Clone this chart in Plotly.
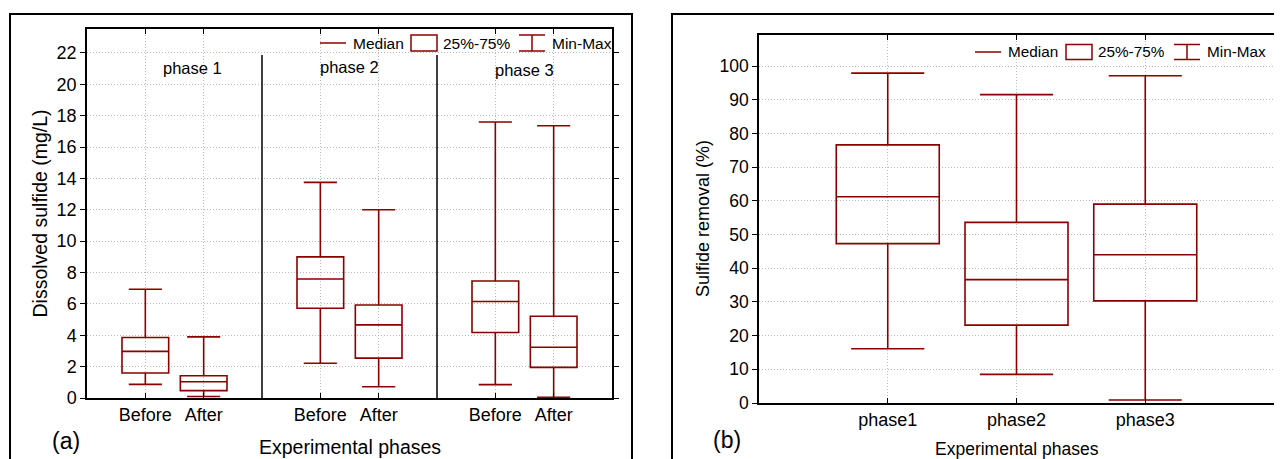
import plotly.graph_objects as go

# ---------------- data ----------------
# Panel (a): dissolved sulfide (mg/L)
a_positions = [1, 2, 4, 5, 7, 8]
a_labels = ["Before", "After", "Before", "After", "Before", "After"]
a_min = [0.87, 0.10, 2.22, 0.72, 0.85, 0.04]
a_q1 = [1.59, 0.47, 5.72, 2.54, 4.18, 1.95]
a_median = [2.97, 1.04, 7.59, 4.66, 6.15, 3.24]
a_q3 = [3.86, 1.42, 9.00, 5.93, 7.46, 5.21]
a_max = [6.93, 3.90, 13.75, 12.00, 17.60, 17.36]
a_phase_names = ["phase 1", "phase 2", "phase 3"]
a_phase_label_x = [1.8, 4.5, 7.5]
a_phase_label_y = [21.05, 21.1, 20.9]
a_separators = [3, 6]

# Panel (b): sulfide removal (%)
b_positions = [0, 1, 2]
b_labels = ["phase1", "phase2", "phase3"]
b_min = [16.1, 8.5, 0.9]
b_q1 = [47.3, 23.1, 30.3]
b_median = [61.2, 36.6, 44.0]
b_q3 = [76.6, 53.6, 59.0]
b_max = [97.9, 91.5, 97.1]

# page body has an 8px margin: size the figure to fit the window
OFF = 8
W, H = 1282 - OFF, 459 - OFF
RED = "#8B0000"
FONT = "Arial, Liberation Sans, sans-serif"
GRID = "#b8b8b8"


def px(x):
    return (x - OFF) / W


def py(y):
    return 1 - (y - OFF) / H


fig = go.Figure()

fig.add_trace(go.Box(
    x=a_positions, q1=a_q1, median=a_median, q3=a_q3,
    lowerfence=a_min, upperfence=a_max,
    width=0.8, whiskerwidth=0.71,
    line=dict(color=RED, width=1.6), fillcolor="rgba(255,255,255,0)",
    boxpoints=False, showlegend=False, xaxis="x", yaxis="y",
))
fig.add_trace(go.Box(
    x=b_positions, q1=b_q1, median=b_median, q3=b_q3,
    lowerfence=b_min, upperfence=b_max,
    width=0.8, whiskerwidth=0.71,
    line=dict(color=RED, width=1.6), fillcolor="rgba(255,255,255,0)",
    boxpoints=False, showlegend=False, xaxis="x2", yaxis="y2",
))

axis_common = dict(
    showline=True, linecolor="black", linewidth=1.5, mirror="ticks",
    showgrid=True, gridcolor=GRID, griddash="1px,2px", gridwidth=1,
    zeroline=False, tickcolor="black", automargin=False,
    tickfont=dict(family=FONT, size=18, color="black"),
)

fig.update_layout(
    width=W, height=H,
    margin=dict(l=0, r=0, t=0, b=0, pad=0, autoexpand=False),
    paper_bgcolor="white", plot_bgcolor="white",
    boxmode="overlay",
    xaxis=dict(domain=[px(87), px(612)], anchor="y", range=[0, 9],
               tickvals=a_positions, ticktext=a_labels,
               ticks="inside", ticklen=5, **axis_common),
    yaxis=dict(domain=[py(398), py(29)], anchor="x", range=[0, 23.53],
               tickvals=list(range(0, 23, 2)),
               ticks="outside", ticklen=5, **axis_common),
    xaxis2=dict(domain=[px(759), px(1274)], anchor="y2", range=[-1, 3],
                tickvals=b_positions, ticktext=b_labels,
                ticks="inside", ticklen=5, **axis_common),
    yaxis2=dict(domain=[py(403), py(35)], anchor="x2", range=[0, 109.2],
                tickvals=list(range(0, 101, 10)),
                ticks="outside", ticklen=5, **axis_common),
)
fig.update_yaxes(tickfont=dict(size=17.5), selector=dict(anchor="x2"))

shapes = []
annotations = []

# outer frames
shapes.append(dict(type="rect", xref="paper", yref="paper",
                   x0=px(10), x1=px(632), y0=py(475), y1=py(14),
                   line=dict(color="black", width=2), layer="below"))
shapes.append(dict(type="rect", xref="paper", yref="paper",
                   x0=px(672), x1=px(1295), y0=py(475), y1=py(14),
                   line=dict(color="black", width=2), layer="below"))

# phase separators in panel (a)
for s in a_separators:
    shapes.append(dict(type="line", xref="x", yref="y",
                       x0=s, x1=s, y0=0, y1=21.87,
                       line=dict(color="black", width=1.5)))

# phase labels
for name, lx, ly in zip(a_phase_names, a_phase_label_x, a_phase_label_y):
    annotations.append(dict(xref="x", yref="y", x=lx, y=ly, text=name,
                            showarrow=False, xanchor="center",
                            yanchor="middle",
                            font=dict(family=FONT, size=16.5, color="black")))


def legend(y, x_line, x_box, x_mm, x_t1, x_t2, x_t3, half, fsize):
    items = []
    txt = []
    items.append(dict(type="line", xref="paper", yref="paper",
                      x0=px(x_line), x1=px(x_line + 26), y0=py(y), y1=py(y),
                      line=dict(color=RED, width=1.5)))
    items.append(dict(type="rect", xref="paper", yref="paper",
                      x0=px(x_box), x1=px(x_box + 26),
                      y0=py(y + half), y1=py(y - half),
                      line=dict(color=RED, width=1.5)))
    items.append(dict(type="line", xref="paper", yref="paper",
                      x0=px(x_mm), x1=px(x_mm + 26),
                      y0=py(y - half), y1=py(y - half),
                      line=dict(color=RED, width=1.5)))
    items.append(dict(type="line", xref="paper", yref="paper",
                      x0=px(x_mm), x1=px(x_mm + 26),
                      y0=py(y + half), y1=py(y + half),
                      line=dict(color=RED, width=1.5)))
    items.append(dict(type="line", xref="paper", yref="paper",
                      x0=px(x_mm + 13), x1=px(x_mm + 13),
                      y0=py(y + half), y1=py(y - half),
                      line=dict(color=RED, width=1.5)))
    for t, xt in zip(["Median", "25%-75%", "Min-Max"], [x_t1, x_t2, x_t3]):
        txt.append(dict(xref="paper", yref="paper", x=px(xt), y=py(y),
                        xanchor="left", yanchor="middle", text=t,
                        showarrow=False,
                        font=dict(family=FONT, size=fsize, color="black")))
    return items, txt


s1, t1 = legend(43, 320, 411, 519, 351, 441, 550, 8, 15.5)
s2, t2 = legend(52, 975, 1066, 1174, 1006, 1096, 1205, 7.5, 15.3)
shapes += s1 + s2
annotations += t1 + t2


def title(x, y, text, size, angle=0):
    return dict(xref="paper", yref="paper", x=px(x), y=py(y), text=text,
                textangle=angle, showarrow=False,
                xanchor="center", yanchor="middle",
                font=dict(family=FONT, size=size, color="black"))


annotations += [
    title(40, 213.5, "Dissolved sulfide (mg/L)", 19.5, -90),
    title(349.5, 447, "Experimental phases", 19.5),
    title(703, 219, "Sulfide removal (%)", 18, -90),
    title(1016.5, 449, "Experimental phases", 17.5),
    title(66, 441, "(a)", 23),
    title(727, 440, "(b)", 23),
]

fig.update_layout(shapes=shapes, annotations=annotations)

fig.write_html("out.html")
